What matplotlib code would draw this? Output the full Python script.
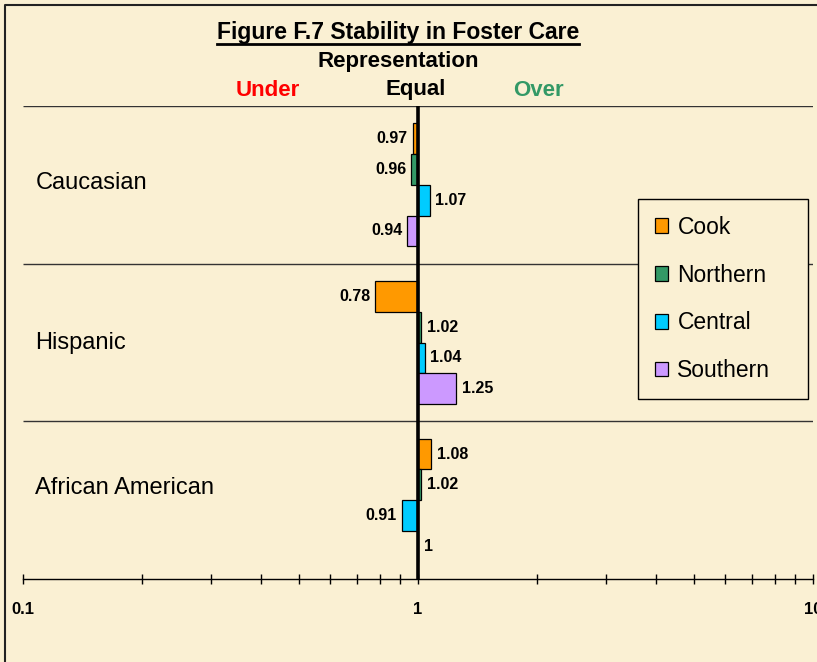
import matplotlib
matplotlib.use("Agg")
import matplotlib.pyplot as plt
from matplotlib.patches import Patch
from matplotlib.lines import Line2D
from matplotlib.ticker import FuncFormatter, NullFormatter, LogLocator

plt.rcParams['font.family'] = ['Liberation Sans', 'DejaVu Sans']

# data
groups = ["Caucasian", "Hispanic", "African American"]
regions = ["Cook", "Northern", "Central", "Southern"]
colors = ["#FF9900", "#339966", "#00CCFF", "#CC99FF"]
caucasian = [0.97, 0.96, 1.07, 0.94]
hispanic = [0.78, 1.02, 1.04, 1.25]
african_american = [1.08, 1.02, 0.91, 1.0]
values = [caucasian, hispanic, african_american]
xticks = [0.1, 1, 10]

bg = "#FAF0D3"
W, H = 817, 662
fig = plt.figure(figsize=(W / 100, H / 100), dpi=100, facecolor=bg)
ax = fig.add_axes([23 / W, 1 - 579 / H, 790 / W, 473 / H])
ax.set_facecolor("none")

bar_h = 0.195
offsets = [-1.5, -0.5, 0.5, 1.5]
for gi, vals in enumerate(values):
    for ri, v in enumerate(vals):
        y = gi + 0.5 + offsets[ri] * bar_h
        ax.barh(y, v - 1, left=1, height=bar_h, color=colors[ri],
                edgecolor="black", linewidth=0.9, zorder=3)
        lbl = f"{v:g}"
        if v < 1:
            ax.annotate(lbl, (v, y), xytext=(-3.5, 0), textcoords="offset points",
                        ha="right", va="center", fontsize=11.5, fontweight="bold")
        else:
            ax.annotate(lbl, (v, y), xytext=(4, 0), textcoords="offset points",
                        ha="left", va="center", fontsize=11.5, fontweight="bold")

# category labels drawn inside the plot area
label_y = [0.49, 0.5, 0.42]
for gi, g in enumerate(groups):
    ax.text(0.1075, gi + label_y[gi], g, ha="left", va="center", fontsize=17)

ax.set_xscale("log")
ax.set_xlim(0.1, 10)
ax.set_ylim(3, 0)
ax.hlines([0, 1, 2], 0.1, 10, colors="#333333", linewidth=1.0, zorder=1)
ax.axvline(1, color="black", linewidth=2.6, zorder=4)

for s in ["left", "right", "top"]:
    ax.spines[s].set_visible(False)
ax.spines["bottom"].set_linewidth(1.0)
ax.set_yticks([])
ax.set_xticks(xticks)
ax.xaxis.set_minor_locator(LogLocator(base=10, subs=range(2, 10)))
ax.xaxis.set_major_formatter(FuncFormatter(lambda v, _: f"{v:g}"))
ax.xaxis.set_minor_formatter(NullFormatter())
ax.tick_params(axis="x", which="both", direction="inout", length=7, width=1.0,
               pad=13, labelsize=12)
for t in ax.get_xticklabels():
    t.set_fontweight("bold")

# titles
title = fig.text(398 / W, 1 - 32 / H, "Figure F.7 Stability in Foster Care",
                 ha="center", va="center", fontsize=16.5, fontweight="bold")
fig.text(398 / W, 1 - 61 / H, "Representation", ha="center", va="center",
         fontsize=16, fontweight="bold")
fig.text(268 / W, 1 - 90 / H, "Under", ha="center", va="center",
         fontsize=16, fontweight="bold", color="#FF0000")
fig.text(416 / W, 1 - 90 / H, "Equal", ha="center", va="center",
         fontsize=16, fontweight="bold", color="black")
fig.text(538 / W, 1 - 90 / H, "Over", ha="center", va="center",
         fontsize=16, fontweight="bold", color="#339966")

r = fig.canvas.get_renderer()
bb = title.get_window_extent(r)
fig.add_artist(Line2D([bb.x0 / W, bb.x1 / W], [1 - 43.5 / H, 1 - 43.5 / H],
                      color="black", linewidth=2.0))

# outer frame (left and top edges visible)
fig.add_artist(Line2D([5 / W, 5 / W, 1.01], [-0.01, 1 - 5 / H, 1 - 5 / H],
                      color="#222222", linewidth=1.5))

handles = [Patch(facecolor=c, edgecolor="black", linewidth=0.9) for c in colors]
leg = fig.legend(handles, regions, loc="upper left",
                 bbox_to_anchor=(638 / W, 1 - 200 / H, 170 / W, 0.001),
                 mode="expand", fontsize=16.5, handlelength=0.6, handleheight=0.6,
                 handletextpad=0.4, labelspacing=1.08, borderpad=0.72,
                 borderaxespad=0, fancybox=False, framealpha=1,
                 facecolor=bg, edgecolor="black")
leg.get_frame().set_linewidth(1.0)

fig.savefig("out.png", dpi=100, facecolor=bg)
